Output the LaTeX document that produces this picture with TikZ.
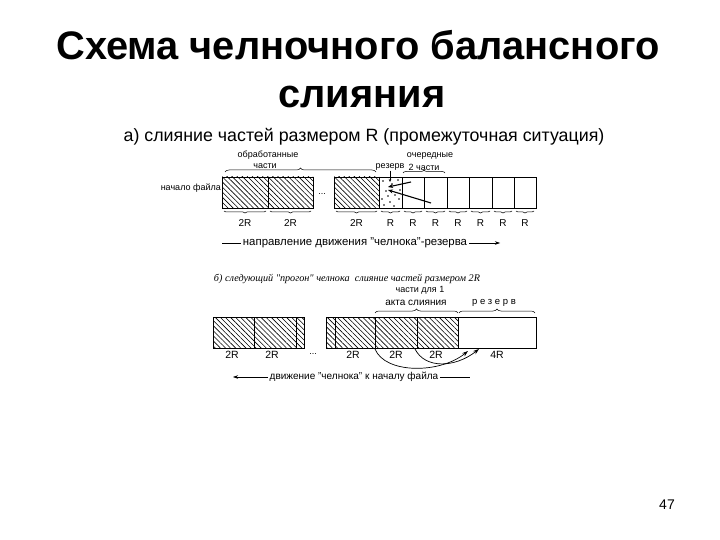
\documentclass[tikz,border=0pt]{standalone}
\usepackage{fontspec}
\setmainfont{Liberation Sans}
\newfontfamily\serifit{Liberation Serif}
\usetikzlibrary{patterns,patterns.meta,decorations.pathreplacing,arrows.meta,calc}
\begin{document}
\begin{tikzpicture}[x=1pt,y=-1pt,
  hatch/.style={draw=black, line width=0.6pt, pattern={Lines[angle=-45,distance=3.6pt,line width=0.6pt]}},
  emptybox/.style={draw=black, line width=0.6pt},
  lbl/.style={font=\fontsize{10}{11}\selectfont, inner sep=0pt},
  lblb/.style={font=\fontsize{10.5}{11}\selectfont, inner sep=0pt},
  small/.style={font=\fontsize{9}{10}\selectfont, inner sep=0pt},
  ubrace/.style={decorate, decoration={brace, mirror, amplitude=2pt}, line width=0.5pt},
  obrace/.style={decorate, decoration={brace, amplitude=4pt}, line width=0.5pt},
  thin/.style={line width=0.5pt},
  bigarrow/.style={line width=1.1pt, -{Stealth[length=5pt,width=4pt]}},
  curvearrow/.style={line width=0.7pt, -{Stealth[length=6pt,width=4pt]}},
]
\useasboundingbox[fill=white] (0,0) rectangle (720,540);

% titles
\node (title1) at (358,45) {\fontsize{39.8}{44}\selectfont\bfseries Схема челночного балансного};
\node (title2) at (362,97) {\fontsize{39.8}{44}\selectfont\bfseries слияния};
\node (sub) at (364,137) {\fontsize{17.8}{20}\selectfont а) слияние частей размером R (промежуточная ситуация)};

% ---------- part a ----------
\draw[hatch] (222,177) rectangle (268,208);
\draw[hatch] (268,177) rectangle (313,208);
\draw[hatch] (334,177) rectangle (379,208);
\draw[emptybox] (379,177) rectangle (402,208);
\foreach \a/\b in {402/424,424/447,447/469,469/492,492/514,514/536}
  \draw[emptybox] (\a,177) rectangle (\b,208);
% dots in reserve
\foreach \p in {(383,181),(392,184),(398,180),(386,191),(395,195),(382,199),(390,202),(399,199),(384,205),(394,206),(400,190),(388,196)}
  \fill \p circle (0.9pt);
\node[small] (dotsA) at (322,194) {...};

% under-braces part a
\foreach \a/\b/\t in {222/268/2R,268/313/2R,334/379/2R,379/402/R,402/424/R,424/447/R,447/469/R,469/492/R,492/514/R,514/536/R}{
  \draw[ubrace] (\a+2,211) -- (\b-2,211);
  \node[lbl] at ({(\a+\b)/2},223) {\t};
}

\node[small, anchor=east] (start) at (221,188) {начало файла};

% over-brace processed parts
\draw[obrace] (225,172) -- (376,172);
\node[small] (obr1) at (268,155) {обработанные};
\node[small] (obr2) at (265,166) {части};

% next parts
\node[small] (och) at (430,156) {очередные};
\node[small] (rez) at (390,167) {резерв};
\node[small] (two) at (424,167) {2 части};
\draw[obrace, decoration={amplitude=3pt}] (403,173) -- (445,173);
\coordinate (rezdown) at (390,182);
\draw[thin, -{Stealth[length=3pt,width=2.5pt]}] (rez.south) -- (rezdown);

% merge arrows into reserve
\coordinate (m1s) at (411,182);
\coordinate (m1e) at (388,187);
\coordinate (m2s) at (431,203);
\coordinate (m2e) at (388,190);
\draw[bigarrow] (m1s) -- (m1e);
\draw[bigarrow] (m2s) -- (m2e);

% direction line
\node[font=\fontsize{11.4}{13}\selectfont, inner sep=2pt] (dir) at (355,243) {направление движения "челнока"-резерва};
\coordinate (dirL) at (222,243);
\coordinate (dirR) at (500,243);
\draw[thin] (dirL) -- (dir.west);
\draw[thin, -{Stealth[length=5pt,width=3.5pt]}] (dir.east) -- (dirR);

% ---------- part b ----------
\node[font=\serifit\itshape\fontsize{10.2}{12}\selectfont] (bt) at (347,279) {б) следующий "прогон" челнока\ \ слияние частей размером 2R};
\node[small] (cd1) at (420,290) {части для 1};
\node[font=\fontsize{10}{11}\selectfont, inner sep=0pt] (cd2) at (416,303) {акта слияния};
\node[font=\fontsize{9.5}{10}\selectfont, inner sep=0pt] (rezb) at (494,303) {р е з е р в};
\draw[obrace] (375,313) -- (458,313);
\draw[obrace] (459,313) -- (535,313);

\draw[hatch] (213,317) rectangle (254,348);
\draw[hatch] (254,317) rectangle (296,348);
\draw[hatch] (296,317) rectangle (304,348);
\node[small] (dotsB) at (313,354) {...};
\draw[hatch] (326,317) rectangle (335,348);
\draw[hatch] (335,317) rectangle (375,348);
\draw[hatch] (375,317) rectangle (417,348);
\draw[hatch] (417,317) rectangle (458,348);
\draw[emptybox] (458,317) rectangle (536,348);

\foreach \x/\t in {232/2R,272/2R,353/2R,396/2R,436/2R,497/4R}
  \node[lblb] at (\x,355) {\t};

\coordinate (c1s) at (375,349);
\coordinate (c1e) at (468,351);
\coordinate (c2s) at (415,349);
\coordinate (c2e) at (479,349);
\draw[curvearrow] (c1s) .. controls (385,374) and (440,374) .. (c1e);
\draw[curvearrow] (c2s) .. controls (425,369) and (455,368) .. (c2e);

% bottom direction
\node[font=\fontsize{10}{12}\selectfont, inner sep=1.5pt] (dirb) at (354,377) {движение "челнока" к началу файла};
\coordinate (dirbL) at (233,377);
\coordinate (dirbR) at (470,377);
\draw[thin, -{Stealth[length=5pt,width=3.5pt]}] (dirb.west) -- (dirbL);
\draw[thin] (dirb.east) -- (dirbR);

\node[font=\fontsize{14}{16}\selectfont] (page) at (667,505) {47};
\end{tikzpicture}
\end{document}
